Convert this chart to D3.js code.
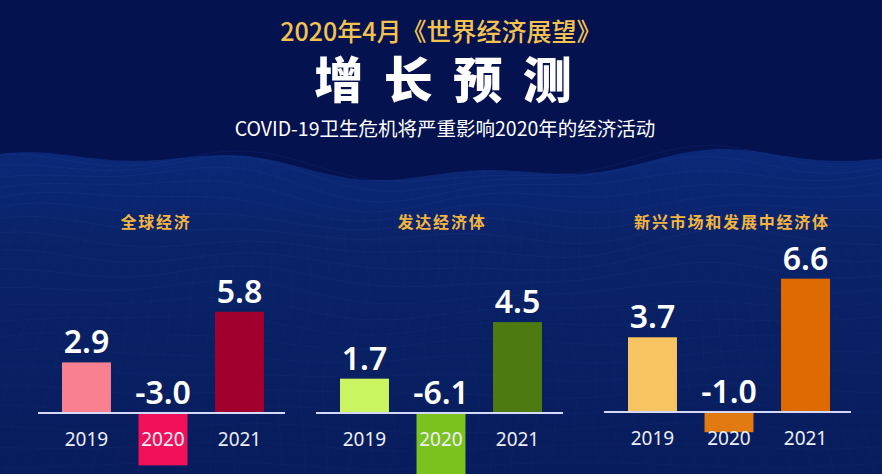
<!DOCTYPE html>
<html><head><meta charset="utf-8">
<script src="https://cdn.jsdelivr.net/npm/d3@7"></script>
<style>html,body{margin:0;padding:0;background:#041250;}svg{display:block;}</style>
</head><body>
<svg id="chart" width="882" height="474"></svg>
<script>
// ---- data ----
const years = ["2019", "2020", "2021"];
const panelTitles = ["全球经济", "发达经济体", "新兴市场和发展中经济体"];
const globalValues = [2.9, -3.0, 5.8];
const advancedValues = [1.7, -6.1, 4.5];
const emergingValues = [3.7, -1.0, 6.6];
const globalColors = ["#f8808f", "#f2105a", "#a1002f"];
const advancedColors = ["#cbf560", "#7cc21f", "#4e7a12"];
const emergingColors = ["#f8c462", "#e27a12", "#e06a02"];
const headerLine = "2020年4月《世界经济展望》";
const mainTitle = "增长预测";
const subTitle = "COVID-19卫生危机将严重影响2020年的经济活动";

// ---- layout ----
const W = 882, H = 474;
const svg = d3.select("#chart");
const panels = [
  {title: panelTitles[0], values: globalValues, colors: globalColors, x0: 62, titleX: 156, base: 413, k: 17.45},
  {title: panelTitles[1], values: advancedValues, colors: advancedColors, x0: 340, titleX: 442, base: 413, k: 20.2},
  {title: panelTitles[2], values: emergingValues, colors: emergingColors, x0: 628, titleX: 732, base: 412, k: 20.2}
];

// ---- background ----
const defs = svg.append("defs");
svg.append("rect").attr("width", W).attr("height", H).attr("fill", "#041250");

const g2 = defs.append("linearGradient").attr("id", "mesh").attr("x1", 0).attr("y1", 0).attr("x2", 0).attr("y2", 1);
g2.append("stop").attr("offset", "0").attr("stop-color", "#0b2878");
g2.append("stop").attr("offset", "0.3").attr("stop-color", "#0a2368");
g2.append("stop").attr("offset", "1").attr("stop-color", "#071c5c");

// decorative wave mesh
const ridge = x => 164 - 8 * Math.sin(x / 95) - 6 * Math.sin(x / 37 + 1.2) - 5 * Math.cos(x / 160 + 0.5);
const xs = d3.range(0, W + 1, 6);
const area = d3.area().x(d => d).y0(H).y1(d => ridge(d)).curve(d3.curveBasis);
svg.append("path").datum(xs).attr("d", area).attr("fill", "url(#mesh)");
const meshG = svg.append("g").attr("stroke", "#3a68c4").attr("fill", "none").attr("stroke-width", 0.5);
const line = d3.line().curve(d3.curveBasis);
for (let r = 0; r < 22; r++) {
  const t = r / 21;
  const pts = xs.map(x => {
    const top = ridge(x);
    const y = top + Math.pow(t, 1.25) * (H - top + 10) + 6 * Math.sin(x / 60 + r * 0.7) * (1 - t * 0.5);
    return [x, y];
  });
  meshG.append("path").attr("d", line(pts)).attr("opacity", 0.2 - t * 0.1);
}
for (let c = -10; c < 70; c++) {
  const pts = d3.range(0, 23).map(r => {
    const t = r / 22;
    const xb = c * 14 + (c * 14 - W / 2) * t * 0.6 + 8 * Math.sin(r * 0.6 + c * 0.3);
    const top = ridge(Math.max(0, Math.min(W, xb)));
    const y = top + Math.pow(t, 1.25) * (H - top + 10);
    return [xb, y];
  });
  meshG.append("path").attr("d", line(pts)).attr("opacity", 0.1);
}

// ---- header ----
const cjk = "'Noto Sans CJK SC', 'Noto Sans', sans-serif";
svg.append("text").attr("x", 441).attr("y", 41).attr("text-anchor", "middle")
  .attr("font-family", cjk).attr("font-size", 25).attr("font-weight", 500)
  .attr("fill", "#f3c24f").text(headerLine);
svg.append("g").selectAll("text").data(Array.from(mainTitle)).join("text")
  .attr("x", (d, i) => 443 + (i - 1.5) * 69.5).attr("y", 98).attr("text-anchor", "middle")
  .attr("font-family", cjk).attr("font-size", 49).attr("font-weight", 900)
  .attr("fill", "#ffffff").text(d => d);
svg.append("text").attr("x", 445).attr("y", 136).attr("text-anchor", "middle")
  .attr("font-family", cjk).attr("font-size", 19.5).attr("font-weight", 400)
  .attr("fill", "#ffffff").text(subTitle);

// ---- panels ----
const numFont = "'Noto Sans', 'Open Sans', sans-serif";
panels.forEach(p => {
  const g = svg.append("g");
  const x = d3.scaleBand().domain(years).range([p.x0, p.x0 + 202]).paddingInner(0.36).paddingOuter(0);
  const y = d3.scaleLinear().domain([-10, 10]).range([p.base + 10 * p.k, p.base - 10 * p.k]);
  const data = years.map((yr, i) => ({year: yr, value: p.values[i], color: p.colors[i]}));

  g.append("text").attr("x", p.titleX).attr("y", 228).attr("text-anchor", "middle")
    .attr("font-family", cjk).attr("font-size", 16).attr("font-weight", 700)
    .attr("letter-spacing", 1.8).attr("fill", "#f3b53f").text(p.title);

  g.selectAll("rect.bar").data(data).join("rect").attr("class", "bar")
    .attr("x", d => x(d.year)).attr("width", x.bandwidth())
    .attr("y", d => y(Math.max(0, d.value)))
    .attr("height", d => Math.abs(y(d.value) - y(0)))
    .attr("fill", d => d.color);

  // baseline axis (zero line)
  const axis = d3.axisBottom(x).tickSize(0).tickPadding(0).tickFormat("");
  const ax = g.append("g").attr("transform", `translate(0,${y(0)})`).call(axis);
  ax.select(".domain").remove();
  g.append("line").attr("x1", p.x0 - 24).attr("x2", p.x0 + 223)
    .attr("y1", y(0)).attr("y2", y(0)).attr("stroke", "#d6dafa").attr("stroke-width", 2);

  g.selectAll("text.val").data(data).join("text").attr("class", "val")
    .attr("x", d => x(d.year) + x.bandwidth() / 2)
    .attr("y", d => y(Math.max(0, d.value)) - 9)
    .attr("text-anchor", "middle").attr("font-family", numFont)
    .attr("font-size", 32).attr("font-weight", 600).attr("fill", "#ffffff")
    .text(d => d.value.toFixed(1));

  g.selectAll("text.yr").data(data).join("text").attr("class", "yr")
    .attr("x", d => x(d.year) + x.bandwidth() / 2).attr("y", y(0) + 33)
    .attr("text-anchor", "middle").attr("font-family", numFont)
    .attr("font-size", 19).attr("font-weight", 400).attr("fill", "#eceef8")
    .text(d => d.year);
});
</script>
</body></html>
